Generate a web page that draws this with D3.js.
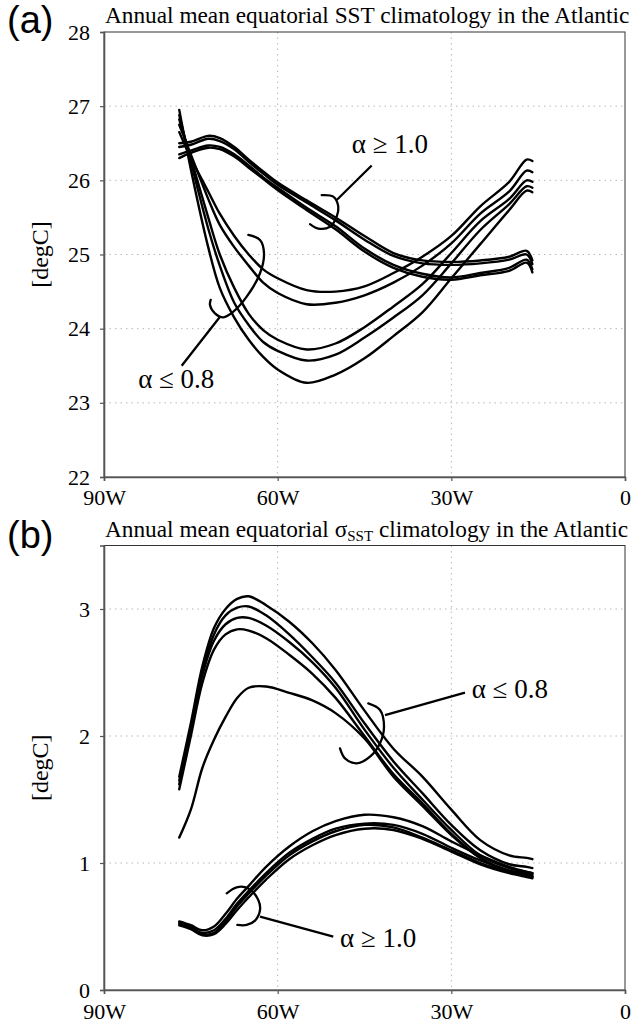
<!DOCTYPE html>
<html>
<head>
<meta charset="utf-8">
<script src="https://cdn.jsdelivr.net/npm/d3@7"></script>
<style>
body { margin: 0; background: #fff; }
text { font-family: "Liberation Serif", "Times New Roman", serif; fill: #000; }
</style>
</head>
<body>
<svg id="chart" width="634" height="1024"></svg>
<script>
// ---- data ----
var xTicks = [-90, -60, -30, 0];
var xTickLabels = ["90W", "60W", "30W", "0"];

// panel (a): SST
var lonA = [-77, -75, -72, -70, -67.5, -65, -62.5, -60, -55, -50, -45, -40, -35, -30, -25, -20, -17, -16];
var yTicksA = [22, 23, 24, 25, 26, 27, 28];
var sstGE1 = [ // alpha >= 1.0
  [26.5, 26.52, 26.6, 26.57, 26.45, 26.28, 26.12, 25.97, 25.73, 25.5, 25.25, 25.02, 24.92, 24.9, 24.92, 24.97, 25.05, 24.92],
  [26.45, 26.48, 26.56, 26.53, 26.42, 26.25, 26.09, 25.94, 25.7, 25.46, 25.2, 24.98, 24.88, 24.86, 24.88, 24.93, 25.0, 24.87],
  [26.35, 26.4, 26.47, 26.45, 26.35, 26.2, 26.04, 25.9, 25.63, 25.38, 25.08, 24.86, 24.74, 24.69, 24.75, 24.82, 24.93, 24.8],
  [26.3, 26.37, 26.44, 26.42, 26.32, 26.17, 26.02, 25.87, 25.6, 25.34, 25.04, 24.82, 24.7, 24.66, 24.72, 24.78, 24.89, 24.76]
];
var sstLE08 = [ // alpha <= 0.8
  [26.65, 26.3, 25.85, 25.55, 25.25, 25.0, 24.8, 24.68, 24.52, 24.5, 24.57, 24.75, 24.97, 25.25, 25.65, 25.98, 26.28, 26.26],
  [26.75, 26.35, 25.75, 25.4, 25.1, 24.85, 24.62, 24.48, 24.33, 24.35, 24.45, 24.62, 24.85, 25.15, 25.55, 25.85, 26.13, 26.11],
  [26.82, 26.3, 25.5, 25.0, 24.55, 24.2, 23.98, 23.85, 23.72, 23.8, 24.02, 24.3, 24.6, 25.02, 25.45, 25.75, 26.0, 25.98],
  [26.88, 26.25, 25.35, 24.85, 24.35, 24.05, 23.82, 23.7, 23.57, 23.65, 23.88, 24.15, 24.45, 24.88, 25.33, 25.68, 25.92, 25.9],
  [26.95, 26.15, 25.1, 24.55, 24.15, 23.85, 23.62, 23.45, 23.27, 23.38, 23.6, 23.9, 24.22, 24.68, 25.14, 25.6, 25.86, 25.84]
];

// panel (b): sigma SST
var lonB = [-77, -75, -73, -71, -69, -67, -65, -62, -58, -54, -50, -45, -40, -35, -30, -25, -20, -17, -16];
var yTicksB = [0, 1, 2, 3];
var sigLE08 = [ // alpha <= 0.8
  [1.68, 2.1, 2.55, 2.85, 3.0, 3.08, 3.1, 3.03, 2.9, 2.73, 2.52, 2.2, 1.9, 1.68, 1.42, 1.18, 1.06, 1.04, 1.03],
  [1.62, 2.05, 2.5, 2.8, 2.95, 3.01, 3.02, 2.95, 2.8, 2.62, 2.42, 2.1, 1.8, 1.55, 1.3, 1.1, 0.99, 0.97, 0.96],
  [1.65, 2.05, 2.48, 2.75, 2.88, 2.93, 2.93, 2.87, 2.74, 2.58, 2.38, 2.05, 1.75, 1.5, 1.26, 1.06, 0.96, 0.93, 0.92],
  [1.58, 2.0, 2.42, 2.68, 2.8, 2.84, 2.83, 2.77, 2.64, 2.49, 2.3, 2.0, 1.7, 1.47, 1.23, 1.04, 0.93, 0.9, 0.89],
  [1.2, 1.42, 1.75, 1.97, 2.15, 2.3, 2.38, 2.39, 2.34, 2.28, 2.18, 1.98, 1.68, 1.45, 1.22, 1.04, 0.94, 0.92, 0.91]
];
var sigGE1 = [ // alpha >= 1.0
  [0.54, 0.51, 0.47, 0.5, 0.6, 0.72, 0.82, 0.97, 1.13, 1.25, 1.33, 1.38, 1.36, 1.29, 1.17, 1.06, 0.97, 0.93, 0.92],
  [0.52, 0.49, 0.45, 0.47, 0.56, 0.68, 0.78, 0.92, 1.08, 1.19, 1.27, 1.31, 1.3, 1.23, 1.12, 1.02, 0.94, 0.91, 0.9],
  [0.53, 0.5, 0.44, 0.45, 0.54, 0.66, 0.76, 0.9, 1.06, 1.17, 1.25, 1.3, 1.28, 1.2, 1.1, 1.0, 0.93, 0.9, 0.89],
  [0.51, 0.48, 0.43, 0.44, 0.52, 0.63, 0.73, 0.87, 1.03, 1.14, 1.22, 1.27, 1.26, 1.19, 1.09, 0.99, 0.92, 0.89, 0.88]
];

// annotation geometry in data coordinates [lon, value]
var notesA = [
  { text: "\u03b1 \u2265 1.0", at: [-47.2, 26.37],
    leader: [[-43.76, 26.2], [-49.8, 25.735]],
    bracket: [[-52.39, 25.8], [-50.39, 25.78], [-49.53, 25.645], [-49.8, 25.51], [-50.96, 25.375], [-52.98, 25.35], [-54.42, 25.41]] },
  { text: "\u03b1 \u2264 0.8", at: [-84.1, 23.2],
    leader: [[-76.58, 23.5], [-69.96, 24.16]],
    bracket: [[-65.07, 25.263], [-63.05, 25.196], [-62.36, 25.016], [-63.05, 24.747], [-65.35, 24.431], [-67.66, 24.229], [-69.39, 24.153], [-70.83, 24.207], [-71.69, 24.319], [-71.57, 24.387]] }
];
var notesB = [
  { text: "\u03b1 \u2264 0.8", at: [-26.48, 2.3],
    leader: [[-27.64, 2.341], [-41.46, 2.165]],
    bracket: [[-44.35, 2.257], [-42.32, 2.205], [-41.63, 2.073], [-42.32, 1.943], [-44.05, 1.837], [-46.35, 1.785], [-48.37, 1.824], [-49.23, 1.903]] },
  { text: "\u03b1 \u2265 1.0", at: [-49.23, 0.341],
    leader: [[-50.39, 0.42], [-63.05, 0.577]],
    bracket: [[-68.8, 0.761], [-67.08, 0.809], [-65.07, 0.8], [-63.35, 0.709], [-63.05, 0.63], [-63.92, 0.546], [-65.35, 0.512], [-66.97, 0.512]] }
];

// ---- drawing ----
var svg = d3.select("#chart");
var left = 104, right = 625;
var serif = "'Liberation Serif', 'Times New Roman', Times, serif";

function drawPanel(p){
    var x = d3.scaleLinear().domain([-90, 0]).range([left, right]);
    var y = d3.scaleLinear().domain(p.yDomain).range([p.bottom, p.top]);
    var g = svg.append("g");

    // dotted grid
    g.selectAll(".hgrid").data(p.yTicks.filter(function(d){ return d > p.yDomain[0] && d < p.yDomain[1]; }))
        .enter().append("line")
        .attr("x1", left).attr("x2", right)
        .attr("y1", function(d){ return y(d); }).attr("y2", function(d){ return y(d); })
        .attr("stroke", "#b8b8b8").attr("stroke-width", 1).attr("stroke-dasharray", "1.5,4");
    g.selectAll(".vgrid").data(xTicks.slice(1, -1))
        .enter().append("line")
        .attr("y1", p.top).attr("y2", p.bottom)
        .attr("x1", function(d){ return x(d); }).attr("x2", function(d){ return x(d); })
        .attr("stroke", "#b8b8b8").attr("stroke-width", 1).attr("stroke-dasharray", "1.5,4");

    // frame
    g.append("rect").attr("x", left).attr("y", p.top)
        .attr("width", right - left).attr("height", p.bottom - p.top)
        .attr("fill", "none").attr("stroke", "#333").attr("stroke-width", 1);

    var yAxis = g.append("g").attr("transform", "translate(" + left + ",0)")
        .call(d3.axisLeft(y).tickValues(p.yTicks).tickSize(4).tickPadding(10).tickFormat(d3.format("d")));
    var xAxis = g.append("g").attr("transform", "translate(0," + p.bottom + ")")
        .call(d3.axisBottom(x).tickValues(xTicks).tickSize(4).tickPadding(p.xPad)
            .tickFormat(function(d, i){ return xTickLabels[i]; }));
    [yAxis, xAxis].forEach(function(a){
        a.attr("font-family", null).attr("font-size", null);
        a.select(".domain").attr("stroke", "#555").attr("stroke-width", 1.6);
        a.selectAll(".tick line").attr("stroke", "#555").attr("stroke-width", 1.2);
        a.selectAll(".tick text").style("font-family", serif).style("font-size", "22px").attr("fill", "#000");
    });

    // curves
    var line = d3.line()
        .x(function(d){ return x(d[0]); })
        .y(function(d){ return y(d[1]); })
        .curve(d3.curveCatmullRom.alpha(0.5));
    var all = p.series.map(function(s){ return s.map(function(v, i){ return [p.lon[i], v]; }); });
    g.selectAll(".curve").data(all).enter().append("path")
        .attr("class", "curve")
        .attr("d", line)
        .attr("fill", "none").attr("stroke", "#000").attr("stroke-width", 2.4)
        .attr("stroke-linejoin", "round").attr("stroke-linecap", "round");

    // annotations
    p.notes.forEach(function(n){
        g.append("path").attr("d", d3.line().x(function(d){ return x(d[0]); }).y(function(d){ return y(d[1]); })(n.leader))
            .attr("fill", "none").attr("stroke", "#000").attr("stroke-width", 2.3);
        g.append("path").attr("d", line(n.bracket))
            .attr("fill", "none").attr("stroke", "#000").attr("stroke-width", 2.3).attr("stroke-linecap", "round");
        g.append("text").attr("x", x(n.at[0])).attr("y", y(n.at[1]))
            .style("font-family", serif).style("font-size", "27px").text(n.text);
    });

    // titles and labels
    var t = g.append("text").attr("x", left + 1).attr("y", p.top - 9)
        .style("font-family", serif).style("font-size", "23.3px");
    p.title(t);
    g.append("text").attr("x", 7).attr("y", p.tagY)
        .style("font-family", "'Liberation Sans', Arial, sans-serif").style("font-size", "38px")
        .text(p.tag);
    g.append("text")
        .attr("transform", "translate(48," + ((p.top + p.bottom) / 2) + ") rotate(-90)")
        .attr("text-anchor", "middle")
        .style("font-family", serif).style("font-size", "24px")
        .text("[degC]");
}

drawPanel({
    top: 32, bottom: 477, yDomain: [22, 28], yTicks: yTicksA, xPad: 8,
    lon: lonA, series: sstGE1.concat(sstLE08), notes: notesA,
    tag: "(a)", tagY: 33,
    title: function(t){ t.text("Annual mean equatorial SST climatology in the Atlantic"); }
});
drawPanel({
    top: 545.5, bottom: 990, yDomain: [0, 3.5], yTicks: yTicksB, xPad: 9,
    lon: lonB, series: sigLE08.concat(sigGE1), notes: notesB,
    tag: "(b)", tagY: 548,
    title: function(t){
        t.append("tspan").text("Annual mean equatorial \u03c3");
        t.append("tspan").style("font-size", "15px").attr("dy", 4).text("SST");
        t.append("tspan").attr("dy", -4).text(" climatology in the Atlantic");
    }
});
</script>
</body>
</html>
